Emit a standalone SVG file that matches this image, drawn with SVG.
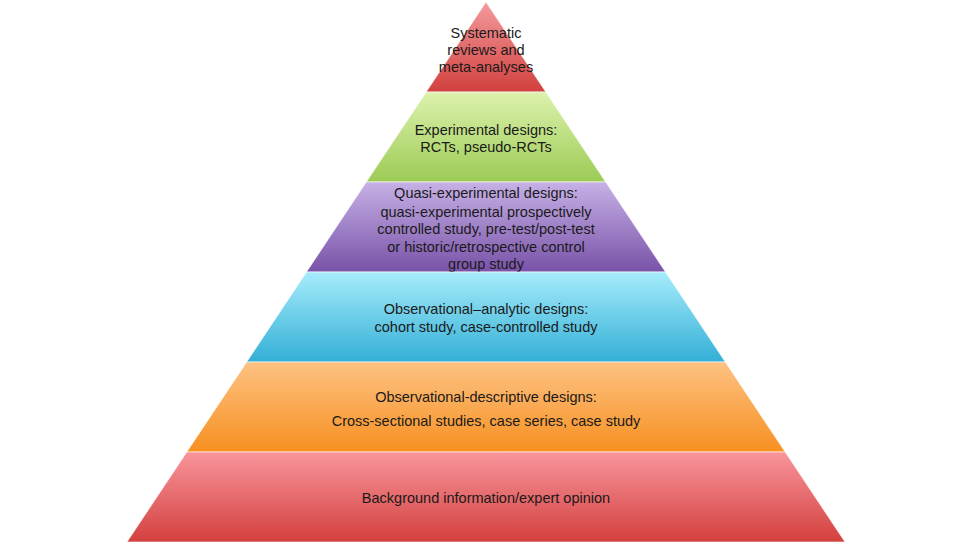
<svg xmlns="http://www.w3.org/2000/svg" width="972" height="547" viewBox="0 0 972 547">
<defs>
<linearGradient id="gRed1" x1="0" y1="0" x2="0" y2="1"><stop offset="0" stop-color="#f49a9c"/><stop offset="1" stop-color="#d1403e"/></linearGradient>
<linearGradient id="gGreen" x1="0" y1="0" x2="0" y2="1"><stop offset="0" stop-color="#ddf2ad"/><stop offset="1" stop-color="#9ccb55"/></linearGradient>
<linearGradient id="gPurple" x1="0" y1="0" x2="0" y2="1"><stop offset="0" stop-color="#c6b1e6"/><stop offset="1" stop-color="#7952a8"/></linearGradient>
<linearGradient id="gCyan" x1="0" y1="0" x2="0" y2="1"><stop offset="0" stop-color="#a6ecfb"/><stop offset="1" stop-color="#33afd6"/></linearGradient>
<linearGradient id="gOrange" x1="0" y1="0" x2="0" y2="1"><stop offset="0" stop-color="#fdc283"/><stop offset="1" stop-color="#f79020"/></linearGradient>
<linearGradient id="gRed2" x1="0" y1="0" x2="0" y2="1"><stop offset="0" stop-color="#f8959c"/><stop offset="1" stop-color="#d3403e"/></linearGradient>
</defs>
<style>
.t{font-family:"Liberation Sans",Arial,sans-serif;font-size:14.5px;fill:#1a1a1a;text-anchor:middle}
.b{stroke:#ffffff;stroke-width:1;stroke-opacity:0.6}
</style>
<rect width="972" height="547" fill="#ffffff"/>
<g id="level1">
<polygon class="b" points="486,2 545.8,92 426.2,92" fill="url(#gRed1)"/>
<text class="t" x="486" y="38">Systematic</text>
<text class="t" x="486" y="55">reviews and</text>
<text class="t" x="486" y="72">meta-analyses</text>
</g>
<g id="level2">
<polygon class="b" points="426.2,92 545.8,92 605.7,182 366.3,182" fill="url(#gGreen)"/>
<text class="t" x="486" y="135">Experimental designs:</text>
<text class="t" x="486" y="152">RCTs, pseudo-RCTs</text>
</g>
<g id="level3">
<polygon class="b" points="366.3,182 605.7,182 665.5,272 306.5,272" fill="url(#gPurple)"/>
<text class="t" x="486" y="198">Quasi-experimental designs:</text>
<text class="t" x="486" y="217">quasi-experimental prospectively</text>
<text class="t" x="486" y="234">controlled study, pre-test/post-test</text>
<text class="t" x="486" y="252">or historic/retrospective control</text>
<text class="t" x="486" y="269">group study</text>
</g>
<g id="level4">
<polygon class="b" points="306.5,272 665.5,272 725.3,362 246.7,362" fill="url(#gCyan)"/>
<text class="t" x="486" y="314">Observational–analytic designs:</text>
<text class="t" x="486" y="332">cohort study, case-controlled study</text>
</g>
<g id="level5">
<polygon class="b" points="246.7,362 725.3,362 785.2,452 186.8,452" fill="url(#gOrange)"/>
<text class="t" x="486" y="402">Observational-descriptive designs:</text>
<text class="t" x="486" y="426">Cross-sectional studies, case series, case study</text>
</g>
<g id="level6">
<polygon class="b" points="186.8,452 785.2,452 845,542 127,542" fill="url(#gRed2)"/>
<text class="t" x="486" y="503">Background information/expert opinion</text>
</g>
<g id="connectors"></g>
</svg>
